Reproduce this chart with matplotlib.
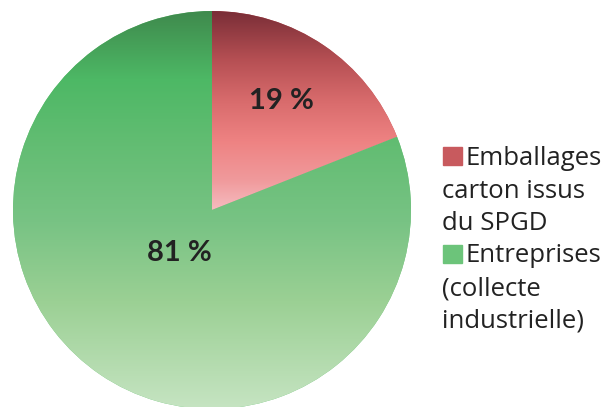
import matplotlib.pyplot as plt
import numpy as np
from matplotlib.patches import Rectangle

# données
labels = ["Emballages\ncarton issus\ndu SPGD", "Entreprises\n(collecte\nindustrielle)"]
values = [19, 81]
legend_colors = ["#c85a5e", "#6cc47a"]

# dégradés verticaux (t = 0 en bas, 1 en haut)
red_t = [0.50, 0.575, 0.675, 0.775, 0.88, 1.0]
red_c = ["#f6bcc0", "#f09a9c", "#ee8282", "#d86b6c", "#b54f53", "#7a2e37"]
green_t = [0.0, 0.27, 0.47, 0.66, 0.83, 1.0]
green_c = ["#c6e4c2", "#9bd094", "#78c384", "#63bd73", "#4db865", "#3f8a4d"]


def hex2rgb(h):
    return [int(h[i:i + 2], 16) / 255 for i in (1, 3, 5)]


def gradient(ts, cols, n=400):
    y = np.linspace(0, 1, n)
    rgb = np.array([hex2rgb(c) for c in cols])
    img = np.stack([np.interp(y, ts, rgb[:, k]) for k in range(3)], axis=-1)
    return img[::-1, None, :].repeat(2, axis=1)


fig = plt.figure(figsize=(6.13, 4.07), dpi=100)
ax = fig.add_axes([13 / 613, -2 / 407, 398 / 613, 398 / 407])
ax.axis("off")

wedges, _ = ax.pie(values, startangle=90, counterclock=False, radius=1,
                   colors=legend_colors, wedgeprops=dict(linewidth=0))
ax.set_xlim(-1, 1)
ax.set_ylim(-1, 1)

for w, (ts, cs) in zip(wedges, [(red_t, red_c), (green_t, green_c)]):
    im = ax.imshow(gradient(ts, cs), extent=[-1, 1, -1, 1], aspect="auto",
                   interpolation="bilinear", zorder=2)
    im.set_clip_path(w)

# étiquettes de pourcentage
dists = [0.66, 0.26]
for w, v, d in zip(wedges, values, dists):
    ang = np.deg2rad((w.theta1 + w.theta2) / 2)
    ax.text(d * np.cos(ang) - 0.02, d * np.sin(ang), f"{v} %", ha="center", va="center",
            fontsize=21, fontweight="bold", color="#222222", family="Lato", zorder=3)

# légende manuelle
font = dict(fontsize=18.5, color="#222222", family="Open Sans", va="baseline")
y0 = 407 - 165
step = 32.5
row = 0
for lab, col in zip(labels, legend_colors):
    lines = lab.split("\n")
    ybase = y0 - row * step
    fig.patches.append(Rectangle((443 / 613, ybase / 407), 19 / 613, 18 / 407,
                                 transform=fig.transFigure, color=col))
    fig.text(466 / 613, ybase / 407, lines[0], **font)
    for ln in lines[1:]:
        row += 1
        fig.text(442 / 613, (y0 - row * step) / 407, ln, **font)
    row += 1

fig.savefig("out.png", dpi=100)
